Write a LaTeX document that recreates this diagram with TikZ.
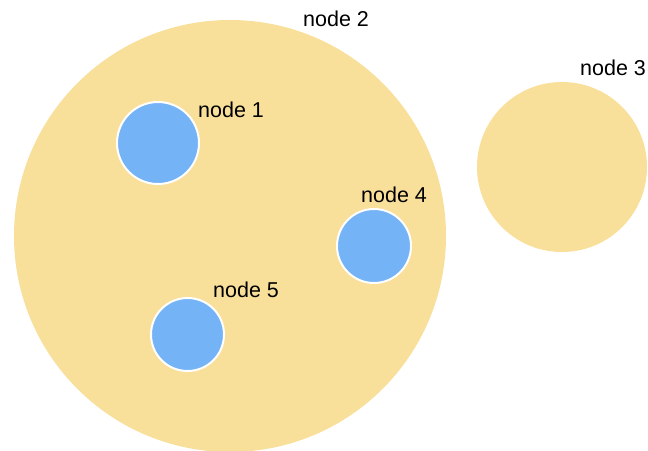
\documentclass[tikz,border=0pt]{standalone}
\usepackage{fontspec}
\setmainfont{Liberation Sans}
\definecolor{groupfill}{HTML}{F8DF9A}
\definecolor{leaffill}{HTML}{74B3F6}
\begin{document}
\begin{tikzpicture}[x=1pt,y=-1pt,
  group/.style={circle,fill=groupfill,draw=none,inner sep=0pt},
  leaf/.style={circle,fill=leaffill,draw=white,line width=2pt,inner sep=0pt},
  tag/.style={anchor=base west,inner sep=0pt,font=\fontsize{21.5}{25}\selectfont}]
  \useasboundingbox (0,0) rectangle (648,450);
  % outer groups
  \node[group,minimum size=432pt] (n2) at (230,236) {};
  \node[group,minimum size=170pt] (n3) at (562,167) {};
  % inner nodes
  \node[leaf,minimum size=82pt] (n1) at (158,143) {};
  \node[leaf,minimum size=74pt] (n4) at (374,246) {};
  \node[leaf,minimum size=73pt] (n5) at (187.5,334.5) {};
  % labels
  \node[tag] (l2) at (303,26) {node 2};
  \node[tag] (l3) at (580,75) {node 3};
  \node[tag] (l1) at (198,117) {node 1};
  \node[tag] (l4) at (361,202) {node 4};
  \node[tag] (l5) at (213,297) {node 5};
\end{tikzpicture}
\end{document}
